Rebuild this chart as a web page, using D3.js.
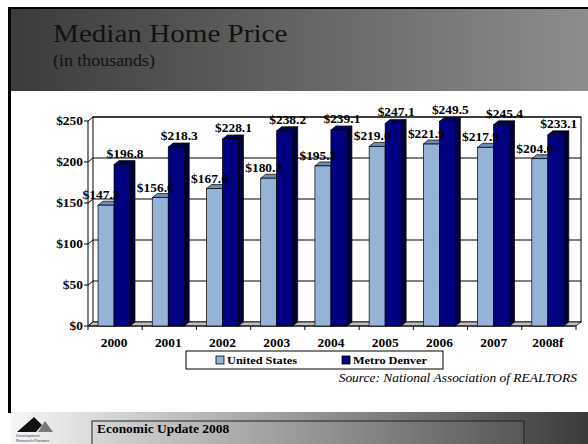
<!DOCTYPE html>
<meta charset="utf-8">
<style>
  body { margin: 0; background: #fff; }
  svg { display: block; font-family: "Liberation Serif", "Times New Roman", serif; }
</style>
<body>
<script src="https://d3js.org/d3.v7.min.js"></script>
<script>

var years = ["2000", "2001", "2002", "2003", "2004", "2005", "2006", "2007", "2008f"];
var usValues = [147.3, 156.6, 167.6, 180.2, 195.2, 219.0, 221.9, 217.9, 204.0];
var denverValues = [196.8, 218.3, 228.1, 238.2, 239.1, 247.1, 249.5, 245.4, 233.1];
var seriesNames = ["United States", "Metro Denver"];
var yTicks = [0, 50, 100, 150, 200, 250];

var width = 588, height = 444;
var dx = 5, dy = 4; // 3d depth
var stretch = 1.12; // text in the slide is drawn a bit wide

var svg = d3.select("body").append("svg")
    .attr("width", width)
    .attr("height", height);

// text helper, stretched horizontally around its anchor
function txt(g, x, y, s, size) {
  return g.append("text")
      .attr("transform", "translate(" + x + "," + y + ") scale(" + stretch + ",1)")
      .attr("font-size", size)
      .text(s);
}

var defs = svg.append("defs");
var hg = defs.append("linearGradient").attr("id", "headGrad");
hg.append("stop").attr("offset", "0%").attr("stop-color", "#3b3b3b");
hg.append("stop").attr("offset", "100%").attr("stop-color", "#8d8d8d");
var fg = defs.append("linearGradient").attr("id", "footGrad");
fg.append("stop").attr("offset", "0%").attr("stop-color", "#f6f6f6");
fg.append("stop").attr("offset", "100%").attr("stop-color", "#3a3a3a");
var bg = defs.append("linearGradient").attr("id", "boxGrad");
bg.append("stop").attr("offset", "0%").attr("stop-color", "#d6d6d6");
bg.append("stop").attr("offset", "100%").attr("stop-color", "#575757");

// frame + header
svg.append("rect").attr("x", 8).attr("y", 7).attr("width", 580).attr("height", 2).attr("fill", "#000");
svg.append("rect").attr("x", 8).attr("y", 7).attr("width", 3).attr("height", 406).attr("fill", "#000");
svg.append("rect").attr("x", 11).attr("y", 9).attr("width", 577).attr("height", 82).attr("fill", "url(#headGrad)");

txt(svg, 53, 42, "Median Home Price", 26).attr("fill", "#111");
txt(svg, 53, 66, "(in thousands)", 16).attr("fill", "#111");

// scales
var x = d3.scaleBand().domain(years).range([88, 576]);
var y = d3.scaleLinear().domain([0, 250]).range([326, 121]);
var bw = x.bandwidth();
var barW = bw * 0.295, barOff = bw * 0.185;

var chart = svg.append("g");
var x0 = x.range()[0], x1 = x.range()[1];

// back wall
chart.append("rect")
    .attr("x", x0 + dx).attr("y", y(250) - dy)
    .attr("width", x1 - x0).attr("height", y(0) - y(250))
    .attr("fill", "#fff").attr("stroke", "#000").attr("stroke-width", 1);

// gridlines on back wall + side wall diagonals
yTicks.forEach(function(t) {
  if (t > 0) {
    chart.append("line")
        .attr("x1", x0 + dx).attr("x2", x1 + dx)
        .attr("y1", y(t) - dy).attr("y2", y(t) - dy)
        .attr("stroke", "#000").attr("stroke-width", 1);
  }
  chart.append("line")
      .attr("x1", x0).attr("x2", x0 + dx)
      .attr("y1", y(t)).attr("y2", y(t) - dy)
      .attr("stroke", "#000").attr("stroke-width", 1);
});

// floor
chart.append("path")
    .attr("d", "M" + x0 + "," + y(0) + "L" + x1 + "," + y(0) + "L" + (x1 + dx) + "," + (y(0) - dy) +
      "L" + (x0 + dx) + "," + (y(0) - dy) + "Z")
    .attr("fill", "#c0c0c0").attr("stroke", "#000").attr("stroke-width", 0.8);

// y axis (front)
chart.append("line").attr("x1", x0).attr("x2", x0).attr("y1", y(250)).attr("y2", y(0))
    .attr("stroke", "#000");
yTicks.forEach(function(t) {
  chart.append("line").attr("x1", x0 - 4).attr("x2", x0).attr("y1", y(t)).attr("y2", y(t)).attr("stroke", "#000");
  txt(chart, x0 - 5, y(t) + 4, "$" + t, 12)
      .attr("text-anchor", "end").attr("font-weight", "bold");
});

// x axis ticks + labels
chart.append("line").attr("x1", x0).attr("x2", x1).attr("y1", y(0)).attr("y2", y(0)).attr("stroke", "#000");
years.forEach(function(yr, i) {
  chart.append("line").attr("x1", x(yr)).attr("x2", x(yr)).attr("y1", y(0)).attr("y2", y(0) + 4).attr("stroke", "#000");
  if (i == years.length - 1)
    chart.append("line").attr("x1", x1).attr("x2", x1).attr("y1", y(0)).attr("y2", y(0) + 4).attr("stroke", "#000");
  txt(chart, x(yr) + bw / 2 - 1, 347, yr, 12)
      .attr("text-anchor", "middle").attr("font-weight", "bold");
});

function bar3d(g, bx, v, front, top, side) {
  var yt = y(v), yb = y(0);
  g.append("path")
      .attr("d", "M" + (bx + barW) + "," + yb + "L" + (bx + barW + dx) + "," + (yb - dy) +
        "L" + (bx + barW + dx) + "," + (yt - dy) + "L" + (bx + barW) + "," + yt + "Z")
      .attr("fill", side).attr("stroke", "#000").attr("stroke-width", 0.7);
  g.append("path")
      .attr("d", "M" + bx + "," + yt + "L" + (bx + dx) + "," + (yt - dy) +
        "L" + (bx + barW + dx) + "," + (yt - dy) + "L" + (bx + barW) + "," + yt + "Z")
      .attr("fill", top).attr("stroke", "#000").attr("stroke-width", 0.7);
  g.append("rect").attr("x", bx).attr("y", yt).attr("width", barW).attr("height", yb - yt)
      .attr("fill", front).attr("stroke", "#000").attr("stroke-width", 0.7);
}

var bars = chart.append("g");
years.forEach(function(yr, i) {
  var bx = x(yr) + barOff;
  bar3d(bars, bx, usValues[i], "#95b3d7", "#6d8db5", "#4f6a8c");
  bar3d(bars, bx + barW, denverValues[i], "#000080", "#00005a", "#000038");
});

// value labels
years.forEach(function(yr, i) {
  var bx = x(yr) + barOff;
  txt(chart, bx + barW / 2 - 5, y(usValues[i]) - 6, "$" + usValues[i].toFixed(1), 12)
      .attr("text-anchor", "middle").attr("font-weight", "bold");
  txt(chart, bx + barW * 1.5 + 3, y(denverValues[i]) - 7, "$" + denverValues[i].toFixed(1), 12)
      .attr("text-anchor", "middle").attr("font-weight", "bold");
});

// legend
var legend = svg.append("g");
legend.append("rect").attr("x", 186).attr("y", 351).attr("width", 257).attr("height", 18)
    .attr("fill", "#fff").attr("stroke", "#000").attr("stroke-width", 1);
var legColors = ["#95b3d7", "#000080"];
var legX = [216, 342];
seriesNames.forEach(function(s, i) {
  legend.append("rect").attr("x", legX[i]).attr("y", 356).attr("width", 8).attr("height", 8)
      .attr("fill", legColors[i]).attr("stroke", "#000").attr("stroke-width", 0.8);
  txt(legend, legX[i] + 11, 364, s, 11).attr("font-weight", "bold");
});

// source
txt(svg, 577, 382, "Source:  National Association of REALTORS", 12)
    .attr("text-anchor", "end").attr("font-style", "italic");

// footer
svg.append("rect").attr("x", 11).attr("y", 412).attr("width", 577).attr("height", 32).attr("fill", "url(#footGrad)");
svg.append("rect").attr("x", 92).attr("y", 421).attr("width", 432).attr("height", 30)
    .attr("fill", "url(#boxGrad)").attr("stroke", "#222").attr("stroke-width", 1);
txt(svg, 97, 433, "Economic Update 2008", 12).attr("font-weight", "bold");

// logo
var logo = svg.append("g");
logo.append("path").attr("d", "M38,432L45,421L53,432Z").attr("fill", "#7a7a7a");
logo.append("path").attr("d", "M17,432L34,417L42,425L36,432Z").attr("fill", "#111");
logo.append("text").attr("x", 16).attr("y", 437).attr("font-size", 4).attr("font-family", "Liberation Sans")
    .attr("fill", "#444").text("Development");
logo.append("text").attr("x", 16).attr("y", 442).attr("font-size", 4).attr("font-family", "Liberation Sans")
    .attr("fill", "#444").text("Research Partners");

</script>
</body>
